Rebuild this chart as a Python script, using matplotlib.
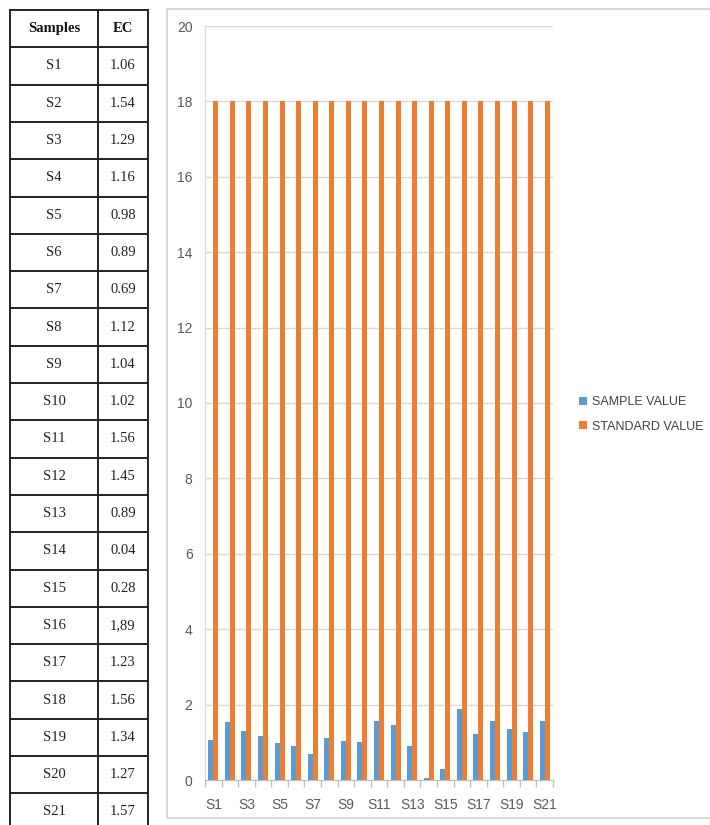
import matplotlib
matplotlib.use("Agg")
import matplotlib.pyplot as plt
from matplotlib.patches import Rectangle
import numpy as np

samples = ["S1", "S2", "S3", "S4", "S5", "S6", "S7", "S8", "S9", "S10", "S11",
           "S12", "S13", "S14", "S15", "S16", "S17", "S18", "S19", "S20", "S21"]
ec_labels = ["1.06", "1.54", "1.29", "1.16", "0.98", "0.89", "0.69", "1.12", "1.04",
             "1.02", "1.56", "1.45", "0.89", "0.04", "0.28", "1,89", "1.23", "1.56",
             "1.34", "1.27", "1.57"]
sample_value = [1.06, 1.54, 1.29, 1.16, 0.98, 0.89, 0.69, 1.12, 1.04, 1.02, 1.56,
                1.45, 0.89, 0.04, 0.28, 1.89, 1.23, 1.56, 1.34, 1.27, 1.57]
standard_value = [18] * 21
y_ticks = [0, 2, 4, 6, 8, 10, 12, 14, 16, 18, 20]

W, H = 710, 825
fig = plt.figure(figsize=(W / 100, H / 100), dpi=100)
fig.patch.set_facecolor("white")

# Overlay in pixel coordinates for the table and the chart frame
ov = fig.add_axes([0, 0, 1, 1])
ov.set_xlim(0, W)
ov.set_ylim(H, 0)
ov.axis("off")

# Table
x_left, x_mid, x_right = 10, 98, 148
top, row_h = 10, 37.3
n_rows = len(samples) + 1
bottom = top + n_rows * row_h
lw = 1.4
ov.plot([x_left, x_left], [top, bottom], color="#222222", lw=lw)
ov.plot([x_mid, x_mid], [top, bottom], color="#222222", lw=lw)
ov.plot([x_right, x_right], [top, bottom], color="#222222", lw=lw)
for i in range(n_rows + 1):
    y = top + i * row_h
    ov.plot([x_left, x_right], [y, y], color="#222222", lw=lw)

serif = ["Liberation Serif", "DejaVu Serif"]
ov.text((x_left + x_mid) / 2, top + row_h / 2, "Samples", ha="center", va="center",
        fontsize=10.5, fontweight="bold", family=serif, color="#111111")
ov.text((x_mid + x_right) / 2, top + row_h / 2, "EC", ha="center", va="center",
        fontsize=10.5, fontweight="bold", family=serif, color="#111111")
for i, (s, v) in enumerate(zip(samples, ec_labels)):
    yc = top + (i + 1.5) * row_h
    ov.text((x_left + x_mid) / 2, yc, s, ha="center", va="center",
            fontsize=10.5, family=serif, color="#222222")
    ov.text((x_mid + x_right) / 2, yc, v, ha="center", va="center",
            fontsize=10.5, family=serif, color="#222222")

# Chart frame
ov.add_patch(Rectangle((167, 9), W - 167 + 5, 818 - 9, fill=False,
                       edgecolor="#d0d0d0", lw=1.2))

# Bar chart
px0, px1 = 205, 553
py0, py1 = 780, 26
ax = fig.add_axes([px0 / W, (H - py0) / H, (px1 - px0) / W, (py0 - py1) / H])
ax.set_facecolor("none")

x = np.arange(len(samples))
bw = 0.3
ax.bar(x - bw / 2, sample_value, width=bw, color="#5B9BD5", label="SAMPLE VALUE", zorder=3)
ax.bar(x + bw / 2, standard_value, width=bw, color="#ED7D31", label="STANDARD VALUE", zorder=3)

ax.set_xlim(-0.5, len(samples) - 0.5)
ax.set_ylim(0, 20)
ax.set_yticks(y_ticks)
ax.yaxis.grid(True, color="#d9d9d9", lw=1, zorder=0)
ax.set_axisbelow(True)

sans = ["Liberation Sans", "DejaVu Sans"]
ax.set_xticks(x[::2])
ax.set_xticklabels(samples[::2], fontsize=10, family=sans, color="#595959")
ax.set_xticks(np.arange(-0.5, len(samples)), minor=True)
ax.tick_params(axis="x", which="major", length=0, pad=13)
ax.tick_params(axis="x", which="minor", length=5, color="#bfbfbf", width=1)
ax.tick_params(axis="y", length=0, pad=9, labelsize=10, labelcolor="#595959")
for t in ax.get_yticklabels():
    t.set_family(sans)

for side in ["top", "right"]:
    ax.spines[side].set_visible(False)
ax.spines["left"].set_color("#d9d9d9")
ax.spines["bottom"].set_color("#bfbfbf")

leg = ax.legend(loc="upper left", bbox_to_anchor=(568 / W, (H - 385) / H),
                bbox_transform=fig.transFigure, frameon=False,
                handlelength=0.6, handleheight=0.6, handletextpad=0.4,
                labelspacing=1.0, prop={"family": sans, "size": 9})
for t in leg.get_texts():
    t.set_color("#404040")

fig.savefig("out.png", dpi=100, facecolor="white")
